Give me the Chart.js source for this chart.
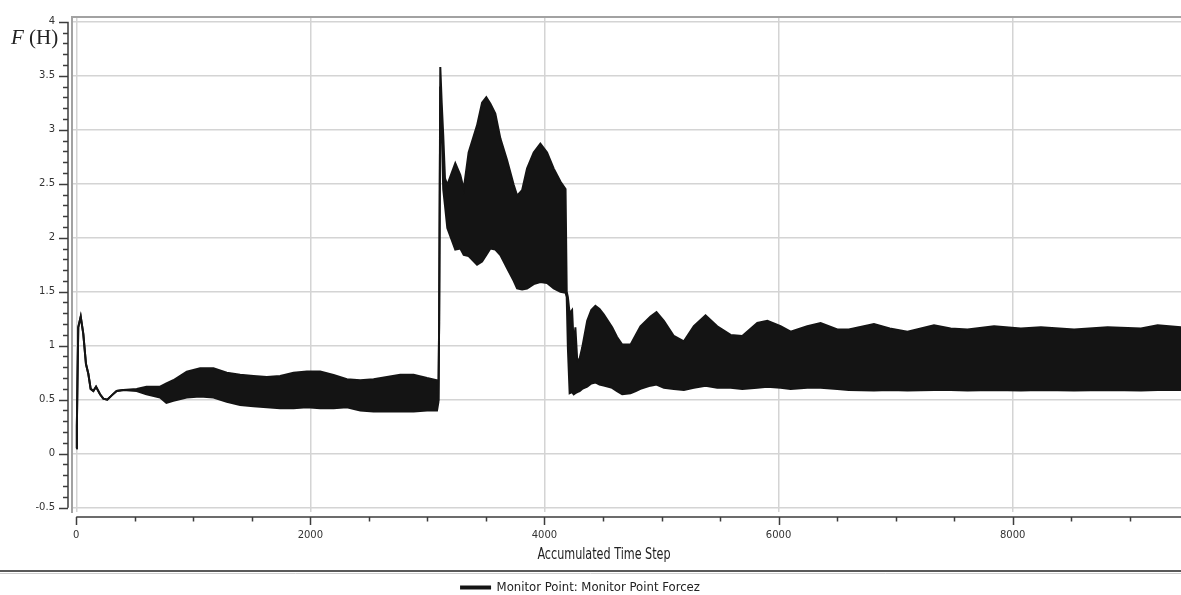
<!DOCTYPE html>
<html>
<head>
<meta charset="utf-8">
<script src="https://cdn.jsdelivr.net/npm/chart.js@4.4.1/dist/chart.umd.min.js"></script>
<style>
  html, body { margin: 0; padding: 0; background: #fff; }
  #wrap { position: relative; width: 1181px; height: 595px; }
  #yLabel {
    position: absolute; left: 11px; top: 27px;
    font-family: "Liberation Serif", "DejaVu Serif", serif;
    font-size: 21px; line-height: 21px; color: #222; white-space: nowrap;
  }
</style>
</head>
<body>
<div id="wrap">
  <canvas id="forceChart" width="1181" height="595"></canvas>
  <div id="yLabel"><i>F</i> (H)</div>
</div>
<script>
// time steps and the max / min of the force signal
const steps = [
  0, 5, 10, 17, 38, 60, 83, 103, 123, 146, 169, 203, 231, 265, 303, 345, 402,
  516, 600, 716, 770, 829, 944, 1058, 1172, 1286, 1400, 1514, 1628, 1742, 1856,
  1970, 2084, 2198, 2312, 2426, 2540, 2654, 2768, 2882, 2996, 3082, 3094, 3100,
  3110, 3122, 3135, 3150, 3170, 3238, 3281, 3310, 3352, 3424, 3467, 3503, 3538,
  3580, 3623, 3680, 3737, 3766, 3809, 3851, 3908, 3965, 4022, 4079, 4136, 4180,
  4190, 4200, 4215, 4236, 4250, 4264, 4280, 4300, 4322, 4365, 4400, 4435, 4470,
  4506, 4578, 4620, 4664, 4735, 4780, 4820, 4906, 4957, 5020, 5105, 5191, 5276,
  5376, 5476, 5590, 5690, 5818, 5904, 6017, 6103, 6245, 6359, 6502, 6600, 6815,
  6950, 7101, 7328, 7470, 7614, 7841, 8070, 8241, 8525, 8811, 9096, 9238, 9438
];
const upperForce = [
  0.05, 0.25, 0.65, 1.17, 1.27, 1.11, 0.83, 0.74, 0.60, 0.58, 0.62, 0.55, 0.51, 0.50, 0.54, 0.58, 0.59,
  0.60, 0.62, 0.62, 0.65, 0.68, 0.76, 0.79, 0.79, 0.75, 0.73, 0.72, 0.71, 0.72, 0.75,
  0.76, 0.76, 0.73, 0.69, 0.68, 0.69, 0.71, 0.73, 0.73, 0.70, 0.68, 0.49, 1.20,
  3.58, 3.25, 2.95, 2.55, 2.49, 2.69, 2.58, 2.45, 2.79, 3.04, 3.25, 3.30, 3.24,
  3.15, 2.92, 2.72, 2.49, 2.39, 2.44, 2.64, 2.79, 2.87, 2.79, 2.64, 2.52, 2.45,
  1.50, 1.45, 1.30, 1.33, 1.00, 1.17, 0.86, 0.88, 0.98, 1.23, 1.33, 1.37, 1.34,
  1.29, 1.17, 1.08, 1.01, 1.01, 1.10, 1.18, 1.27, 1.31, 1.23, 1.09, 1.04, 1.18,
  1.28, 1.18, 1.10, 1.09, 1.21, 1.23, 1.18, 1.13, 1.18, 1.21, 1.15, 1.15, 1.20,
  1.16, 1.13, 1.19, 1.16, 1.15, 1.18, 1.16, 1.17, 1.15, 1.17, 1.16, 1.19, 1.17
];
const lowerForce = [
  0.05, 0.25, 0.65, 1.17, 1.27, 1.11, 0.83, 0.74, 0.60, 0.58, 0.62, 0.55, 0.51, 0.50, 0.54, 0.58, 0.59,
  0.58, 0.55, 0.52, 0.47, 0.49, 0.52, 0.53, 0.52, 0.48, 0.45, 0.44, 0.43, 0.42, 0.42,
  0.43, 0.42, 0.42, 0.43, 0.40, 0.39, 0.39, 0.39, 0.39, 0.40, 0.40, 0.48, 1.20,
  3.40, 3.00, 2.45, 2.30, 2.09, 1.89, 1.90, 1.84, 1.83, 1.75, 1.78, 1.84, 1.90,
  1.89, 1.84, 1.72, 1.60, 1.53, 1.52, 1.53, 1.57, 1.59, 1.58, 1.53, 1.50, 1.49,
  1.45, 0.98, 0.56, 0.57, 0.55, 0.56, 0.57, 0.58, 0.60, 0.62, 0.65, 0.66, 0.64,
  0.63, 0.61, 0.58, 0.55, 0.56, 0.58, 0.60, 0.63, 0.64, 0.61, 0.60, 0.59, 0.61,
  0.63, 0.61, 0.61, 0.60, 0.61, 0.62, 0.61, 0.60, 0.61, 0.61, 0.60, 0.59, 0.585,
  0.59, 0.585, 0.59, 0.59, 0.585, 0.59, 0.585, 0.59, 0.585, 0.59, 0.585, 0.59, 0.59
];

const xTickValues = [0, 2000, 4000, 6000, 8000];
const yTickValues = [-0.5, 0, 0.5, 1, 1.5, 2, 2.5, 3, 3.5, 4];
const legendLabel = "Monitor Point: Monitor Point Forcez";
const xTitle = "Accumulated Time Step";

const lineColor = "#141414";
const narrowFont = '"Liberation Sans Narrow", "DejaVu Sans Condensed", "Arial Narrow", sans-serif';

// frame, axis lines with minor ticks, x title, legend separator
const decorPlugin = {
    id: "decor",
    afterLayout(chart) {
        // legend in the original sits a bit left of centre
        chart.legend.left -= 10;
        chart.legend.right -= 10;
    },
    beforeDatasetsDraw(chart) {
        const { ctx, chartArea: a } = chart;
        ctx.save();
        ctx.strokeStyle = "#a2a2a2";
        ctx.lineWidth = 2;
        ctx.beginPath();
        ctx.moveTo(a.left + 1, a.bottom + 1);
        ctx.lineTo(a.left + 1, a.top + 1);
        ctx.lineTo(a.right, a.top + 1);
        ctx.stroke();
        ctx.restore();
    },
    afterDraw(chart) {
        const { ctx, chartArea: a, scales: { x, y } } = chart;
        ctx.save();
        ctx.strokeStyle = "#3c3c3c";
        ctx.lineWidth = 1.5;

        // y axis
        const axX = a.left - 3;
        ctx.beginPath();
        ctx.moveTo(axX, y.getPixelForValue(4));
        ctx.lineTo(axX, y.getPixelForValue(-0.5));
        for (let i = -5; i <= 40; i++) {
            const py = Math.round(y.getPixelForValue(i / 10)) + 0.5;
            const len = i % 5 === 0 ? 9 : 5;
            ctx.moveTo(axX - len, py);
            ctx.lineTo(axX, py);
        }
        ctx.stroke();

        // x axis
        const axY = a.bottom + 5;
        ctx.beginPath();
        ctx.moveTo(x.getPixelForValue(0), axY);
        ctx.lineTo(a.right, axY);
        for (let t = 0; t <= 9000; t += 500) {
            const px = Math.round(x.getPixelForValue(t)) + 0.5;
            const len = t % 2000 === 0 ? 8 : 4.5;
            ctx.moveTo(px, axY);
            ctx.lineTo(px, axY + len);
        }
        ctx.stroke();

        // x title, squeezed like the original's narrow face
        ctx.fillStyle = "#222";
        ctx.font = "15px " + narrowFont;
        ctx.textAlign = "center";
        ctx.textBaseline = "middle";
        ctx.translate(604, 555);
        ctx.scale(0.83, 1);
        ctx.fillText(xTitle, 0, 0);
        ctx.setTransform(1, 0, 0, 1, 0, 0);

        // separator above the legend
        ctx.strokeStyle = "#5a5a5a";
        ctx.lineWidth = 2;
        ctx.beginPath();
        ctx.moveTo(0, 571);
        ctx.lineTo(chart.width, 571);
        ctx.stroke();
        ctx.strokeStyle = "#cfcfcf";
        ctx.lineWidth = 1;
        ctx.beginPath();
        ctx.moveTo(0, 573.5);
        ctx.lineTo(chart.width, 573.5);
        ctx.stroke();
        ctx.restore();
    }
};

const ctx = document.getElementById("forceChart").getContext("2d");

const forceChart = new Chart(ctx, {
    type: "line",
    data: {
        datasets: [
            {
                label: legendLabel,
                data: steps.map((t, i) => ({ x: t, y: upperForce[i] })),
                borderColor: lineColor,
                backgroundColor: lineColor,
                borderWidth: 2,
                pointRadius: 0,
                tension: 0,
                fill: "+1"
            },
            {
                label: "lower",
                data: steps.map((t, i) => ({ x: t, y: lowerForce[i] })),
                borderColor: lineColor,
                backgroundColor: lineColor,
                borderWidth: 2,
                pointRadius: 0,
                tension: 0,
                fill: false
            }
        ]
    },
    options: {
        responsive: false,
        animation: false,
        layout: { padding: { top: 16, left: 0, right: 0, bottom: -9 } },
        plugins: {
            tooltip: { enabled: false },
            legend: {
                position: "bottom",
                labels: {
                    filter: (item) => item.datasetIndex === 0,
                    boxWidth: 29,
                    boxHeight: 2,
                    padding: 4,
                    color: "#222",
                    font: { family: narrowFont, size: 13 }
                }
            }
        },
        scales: {
            x: {
                type: "linear",
                min: -45,
                max: 9438,
                afterBuildTicks: (scale) => { scale.ticks = xTickValues.map(v => ({ value: v })); },
                afterFit: (scale) => { scale.height = 65; scale.paddingLeft = 0; scale.paddingRight = 0; },
                grid: { color: "#d4d4d4", lineWidth: 1.5, drawTicks: false },
                border: { display: false },
                ticks: {
                    autoSkip: false,
                    maxRotation: 0,
                    padding: 17,
                    color: "#333",
                    font: { family: '"DejaVu Sans", sans-serif', size: 10 },
                    callback: (v) => String(v)
                }
            },
            y: {
                min: -0.54,
                max: 4.053,
                afterBuildTicks: (scale) => { scale.ticks = yTickValues.map(v => ({ value: v })); },
                afterFit: (scale) => { scale.width = 71; scale.paddingTop = 0; scale.paddingBottom = 0; },
                grid: { color: "#d4d4d4", lineWidth: 1.5, drawTicks: false },
                border: { display: false },
                ticks: {
                    padding: 16,
                    color: "#333",
                    font: { family: '"DejaVu Sans", sans-serif', size: 10 },
                    callback: (v) => String(v)
                }
            }
        }
    },
    plugins: [decorPlugin]
});
</script>
</body>
</html>
